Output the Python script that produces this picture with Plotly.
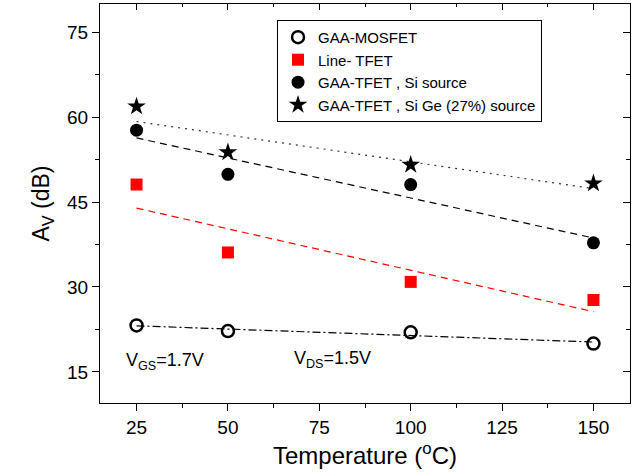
import numpy as np
import plotly.graph_objects as go

temperature = [25, 50, 100, 150]
gaa_mosfet = [23.2, 22.2, 22.0, 20.0]
line_tfet = [48.1, 36.1, 30.9, 27.7]
gaa_tfet_si = [57.7, 49.9, 48.1, 37.8]
gaa_tfet_sige = [61.9, 53.8, 51.6, 48.3]

names = ["GAA-MOSFET", "Line- TFET", "GAA-TFET , Si source", "GAA-TFET , Si Ge (27%) source"]
x_ticks = [25, 50, 75, 100, 125, 150]
y_ticks = [15, 30, 45, 60, 75]

FONT = "Liberation Sans, Arial, sans-serif"

fig = go.Figure()

series = [
    (gaa_mosfet, dict(symbol="circle-open", size=12, color="black", line=dict(width=2.5, color="black")), "black", "dashdot"),
    (line_tfet, dict(symbol="square", size=12, color="#ff0000"), "#ff0000", "dash"),
    (gaa_tfet_si, dict(symbol="circle", size=13, color="black"), "black", "dash"),
    (gaa_tfet_sige, dict(symbol="star", size=14, color="black"), "#333333", "dot"),
]
dash_styles = {"dashdot": "8px,3px,2px,3px", "dash": "7px,5px", "dot": "2px,5px"}

x_arr = np.array(temperature, dtype=float)
for (vals, mk, lc, ds), nm in zip(series, names):
    k, b = np.polyfit(x_arr, np.array(vals), 1)
    fx = [temperature[0], temperature[-1]]
    fy = [k * t + b for t in fx]
    fig.add_trace(go.Scatter(x=fx, y=fy, mode="lines", showlegend=False,
                             line=dict(color=lc, width=1.2, dash=dash_styles[ds]),
                             hoverinfo="skip"))

for (vals, mk, lc, ds), nm in zip(series, names):
    fig.add_trace(go.Scatter(x=temperature, y=vals, mode="markers", name=nm, marker=mk))

# invisible trace for mirrored axes
fig.add_trace(go.Scatter(x=[25], y=[15], xaxis="x2", yaxis="y2", mode="markers",
                         marker=dict(opacity=0), showlegend=False, hoverinfo="skip"))

xr = [15, 160]
yr = [9.5, 80]
common = dict(showline=True, linecolor="black", linewidth=1.3, showgrid=False, zeroline=False)

fig.update_layout(
    width=635, height=475,
    margin=dict(l=100, r=5, t=4, b=72),
    plot_bgcolor="white", paper_bgcolor="white",
    font=dict(family=FONT, color="black"),
    xaxis=dict(range=xr, tickvals=x_ticks, ticks="outside", ticklen=7, tickwidth=1.2, tickcolor="black",
               tickfont=dict(size=19), minor=dict(dtick=12.5, tick0=0, ticks="outside", ticklen=4, tickcolor="black"),
               title=dict(text="Temperature (<sup>o</sup>C)", font=dict(size=24), standoff=10), **common),
    yaxis=dict(range=yr, tickvals=y_ticks, ticks="outside", ticklen=7, tickwidth=1.2, tickcolor="black",
               tickfont=dict(size=19), minor=dict(dtick=7.5, tick0=0, ticks="outside", ticklen=4, tickcolor="black"),
               title=dict(text="A<sub>V</sub> (dB)", font=dict(size=23), standoff=10), **common),
    xaxis2=dict(range=xr, overlaying="x", side="top", tickvals=x_ticks, ticks="inside", ticklen=6,
                tickcolor="black", showticklabels=False,
                minor=dict(dtick=12.5, tick0=0, ticks="inside", ticklen=3, tickcolor="black"), **common),
    yaxis2=dict(range=yr, overlaying="y", side="right", tickvals=y_ticks, ticks="inside", ticklen=7,
                tickcolor="black", showticklabels=False,
                minor=dict(dtick=7.5, tick0=0, ticks="inside", ticklen=4, tickcolor="black"), **common),
    legend=dict(x=0.334, y=0.96, xanchor="left", yanchor="top", bgcolor="white",
                bordercolor="black", borderwidth=1, font=dict(size=15), tracegroupgap=0,
                itemsizing="trace"),
    showlegend=True,
)

fig.add_annotation(x=21.7, y=16.8, xref="x", yref="y", text="V<sub>GS</sub>=1.7V", showarrow=False,
                   xanchor="left", yanchor="middle", font=dict(size=18))
fig.add_annotation(x=67.6, y=17.2, xref="x", yref="y", text="V<sub>DS</sub>=1.5V", showarrow=False,
                   xanchor="left", yanchor="middle", font=dict(size=18))

fig.write_html("out.html")
